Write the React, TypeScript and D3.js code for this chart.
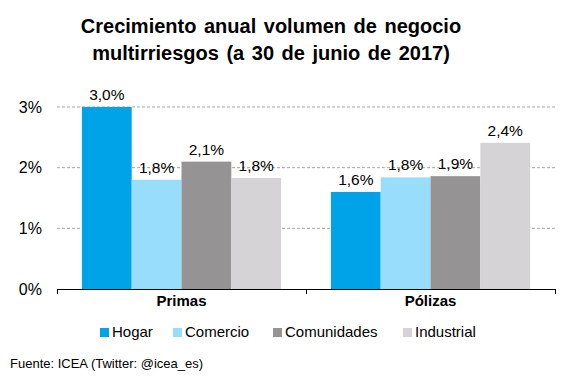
import React from "react";
import * as d3 from "d3";

const categories = ["Primas", "Pólizas"];
const series = ["Hogar", "Comercio", "Comunidades", "Industrial"];
const hogar = [3.0, 1.6];
const comercio = [1.8, 1.84];
const comunidades = [2.1, 1.86];
const industrial = [1.83, 2.41];
const labels = [
  ["3,0%", "1,8%", "2,1%", "1,8%"],
  ["1,6%", "1,8%", "1,9%", "2,4%"],
];
const yTicks = [0, 1, 2, 3];
const colors = ["#00A3E8", "#99DDFD", "#959394", "#D5D3D6"];

export default function App() {
  const W = 567, H = 378;
  const left = 57, right = 555, top = 107, bottom = 289;
  const values = [hogar, comercio, comunidades, industrial];
  const x0 = d3.scaleBand().domain(categories).range([left, right]).paddingInner(0).paddingOuter(0);
  const x1 = d3.scaleBand().domain(series).range([0, x0.bandwidth()]).paddingOuter(0.5).paddingInner(0);
  const y = d3.scaleLinear().domain([0, 3]).range([bottom, top]);
  const font = "Arial, 'Liberation Sans', sans-serif";
  const legendX = [100, 173, 273, 403];
  return (
    <svg width={W} height={H} style={{ position: "absolute", left: 0, top: 0, fontFamily: font }}>
      <rect width={W} height={H} fill="#fff" />
      <text x={271} y={33} textAnchor="middle" fontSize={20} fontWeight="bold" wordSpacing={2}>Crecimiento anual volumen de negocio</text>
      <text x={271} y={60} textAnchor="middle" fontSize={20} fontWeight="bold" wordSpacing={2}>multirriesgos (a 30 de junio de 2017)</text>
      {yTicks.map((t) => (
        <g key={t}>
          {t > 0 && (
            <line x1={left} x2={right} y1={y(t)} y2={y(t)} stroke="#A6A6A6" strokeDasharray="3,2" strokeWidth={1} />
          )}
          <text x={42} y={y(t) + 5.5} textAnchor="end" fontSize={16}>{t}%</text>
        </g>
      ))}
      {categories.map((c, ci) => (
        <g key={c}>
          {series.map((s, si) => {
            const bx = (x0(c) as number) + (x1(s) as number);
            const bw = x1.bandwidth();
            const v = values[si][ci];
            return (
              <g key={s}>
                <rect x={bx} y={y(v)} width={bw} height={bottom - y(v)} fill={colors[si]} />
                <text x={bx + bw / 2} y={y(v) - 7} textAnchor="middle" fontSize={15.5}>{labels[ci][si]}</text>
              </g>
            );
          })}
          <text x={(x0(c) as number) + x0.bandwidth() / 2} y={306} textAnchor="middle" fontSize={15} fontWeight="bold">{c}</text>
        </g>
      ))}
      <line x1={left} x2={right} y1={bottom + 0.5} y2={bottom + 0.5} stroke="#000" strokeWidth={1} />
      {[left, left + x0.bandwidth(), right].map((tx, i) => (
        <line key={i} x1={tx + 0.5} x2={tx + 0.5} y1={bottom} y2={bottom + 5} stroke="#000" strokeWidth={1} />
      ))}
      {series.map((s, i) => (
        <g key={s}>
          <rect x={legendX[i]} y={328} width={9} height={9} fill={colors[i]} />
          <text x={legendX[i] + 12} y={337} fontSize={15}>{s}</text>
        </g>
      ))}
      <text x={10} y={368} fontSize={13}>Fuente: ICEA (Twitter: @icea_es)</text>
    </svg>
  );
}
